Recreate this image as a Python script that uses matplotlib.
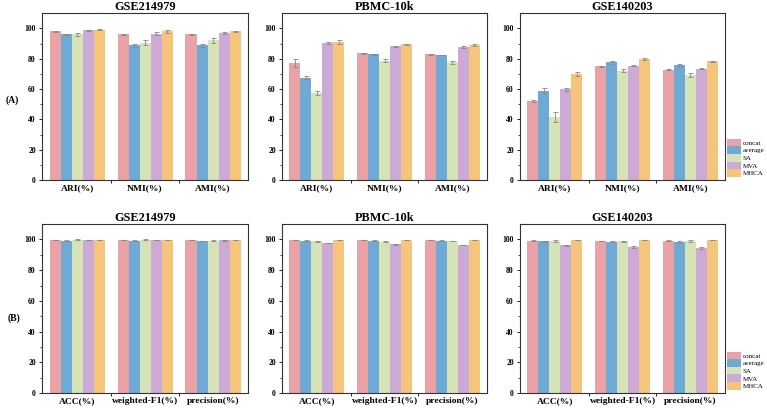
import matplotlib
matplotlib.use("Agg")
import matplotlib.pyplot as plt
import numpy as np
from matplotlib.patches import Patch

plt.rcParams['font.family'] = ['Liberation Serif', 'DejaVu Serif']
plt.rcParams['font.weight'] = 'bold'

methods = ["concat", "average", "SA", "MVA", "MHCA"]
colors = ["#E9A3A6", "#6FA9D5", "#D6E3B6", "#CDA9D5", "#F4C57A"]
datasets = ["GSE214979", "PBMC-10k", "GSE140203"]

metrics_a = ["ARI(%)", "NMI(%)", "AMI(%)"]
metrics_b = ["ACC(%)", "weighted-F1(%)", "precision(%)"]

# values[dataset][method][metric]
vals_a = {
    "GSE214979": [[98.0, 96.0, 96.0], [96.0, 88.8, 88.7], [96.2, 90.6, 92.0],
                  [98.7, 96.5, 96.8], [99.2, 98.0, 98.0]],
    "PBMC-10k": [[77.0, 83.5, 83.0], [67.5, 83.0, 82.4], [57.5, 78.5, 77.5],
                 [90.5, 88.2, 87.8], [91.0, 89.5, 89.0]],
    "GSE140203": [[52.3, 75.0, 72.7], [59.0, 77.7, 76.0], [41.5, 72.0, 69.5],
                  [59.8, 75.3, 73.4], [70.0, 79.8, 78.2]],
}
errs_a = {
    "GSE214979": [[0.3, 0.4, 0.4], [0.3, 1.0, 1.0], [1.0, 1.7, 1.5],
                  [0.4, 0.8, 0.5], [0.3, 0.8, 0.4]],
    "PBMC-10k": [[2.5, 0.4, 0.3], [1.0, 0.3, 0.2], [1.2, 1.0, 1.0],
                 [0.6, 0.3, 0.5], [1.0, 0.3, 0.5]],
    "GSE140203": [[0.7, 0.5, 0.3], [1.5, 1.0, 0.8], [3.5, 1.0, 1.3],
                  [0.8, 0.4, 0.3], [1.5, 0.5, 0.4]],
}
vals_b = {
    "GSE214979": [[99.6, 99.6, 99.5], [99.3, 99.3, 99.1], [99.8, 99.8, 99.3],
                  [99.6, 99.6, 99.4], [99.7, 99.7, 99.6]],
    "PBMC-10k": [[99.6, 99.6, 99.5], [99.3, 99.3, 99.3], [98.7, 98.6, 99.0],
                 [97.8, 97.0, 96.5], [99.8, 99.8, 99.7]],
    "GSE140203": [[99.2, 99.1, 99.3], [98.7, 98.6, 98.6], [98.9, 98.7, 99.0],
                  [96.3, 95.3, 94.3], [99.8, 99.8, 99.7]],
}
errs_b = {
    "GSE214979": [[0.1, 0.1, 0.1], [0.1, 0.1, 0.1], [0.3, 0.4, 0.2],
                  [0.1, 0.1, 0.1], [0.1, 0.1, 0.1]],
    "PBMC-10k": [[0.1, 0.1, 0.1], [0.2, 0.2, 0.2], [0.3, 0.4, 0.3],
                 [0.2, 0.3, 0.2], [0.1, 0.1, 0.1]],
    "GSE140203": [[0.2, 0.2, 0.2], [0.4, 0.4, 0.6], [0.6, 0.6, 0.6],
                  [0.3, 0.6, 0.6], [0.1, 0.1, 0.1]],
}

fig = plt.figure(figsize=(7.67, 4.12), dpi=100)

lefts = [0.0548, 0.3677, 0.678]
widths = [0.2686, 0.2673, 0.2673]
rows = [(0.563, 0.405, metrics_a, vals_a, errs_a), (0.046, 0.410, metrics_b, vals_b, errs_b)]

bar_w = 0.162
x = np.arange(3)

for r, (bottom, height, metrics, vals, errs) in enumerate(rows):
    for c, ds in enumerate(datasets):
        ax = fig.add_axes([lefts[c], bottom, widths[c], height])
        for m in range(5):
            pos = x + (m - 2) * bar_w
            ax.bar(pos, vals[ds][m], width=bar_w, color=colors[m], linewidth=0,
                   yerr=errs[ds][m], capsize=1.8,
                   error_kw=dict(ecolor="#888888", elinewidth=0.6, capthick=0.6))
        ax.set_xlim(-0.515, 2.515)
        ax.set_ylim(0, 110)
        ax.set_yticks([0, 20, 40, 60, 80, 100])
        ax.set_yticks([10, 30, 50, 70, 90], minor=True)
        ax.set_xticks(x)
        ax.set_xticklabels(metrics, fontsize=6.8, fontweight='bold')
        ax.set_xticks([0.5, 1.5], minor=True)
        ax.tick_params(axis='x', which='major', length=0, pad=3)
        ax.tick_params(axis='x', which='minor', length=2, width=0.6)
        ax.tick_params(axis='y', which='major', length=2.5, width=0.6, labelsize=5.5, pad=2)
        ax.tick_params(axis='y', which='minor', length=1.5, width=0.5)
        for lbl in ax.get_yticklabels():
            lbl.set_fontweight('bold')
        for sp in ax.spines.values():
            sp.set_linewidth(0.8)
            sp.set_color("#333333")
        ax.set_title(ds, fontsize=8.8, fontweight='bold', pad=1.5)

        if c == 2:
            handles = [Patch(facecolor=colors[i], edgecolor='none') for i in range(5)]
            ax.legend(handles, methods, loc='lower left', bbox_to_anchor=(1.0, 0.01),
                      frameon=False, handlelength=2.0, handleheight=1.3,
                      handletextpad=0.25, labelspacing=0.0, borderaxespad=0.15,
                      borderpad=0.1, prop={'weight': 'normal', 'size': 5.0})

fig.text(12 / 767, 1 - 100 / 412, "(A)", fontsize=7, fontweight='bold', ha='center', va='center')
fig.text(14 / 767, 1 - 318 / 412, "(B)", fontsize=7, fontweight='bold', ha='center', va='center')

fig.savefig("out.png", dpi=100)
plt.close(fig)
